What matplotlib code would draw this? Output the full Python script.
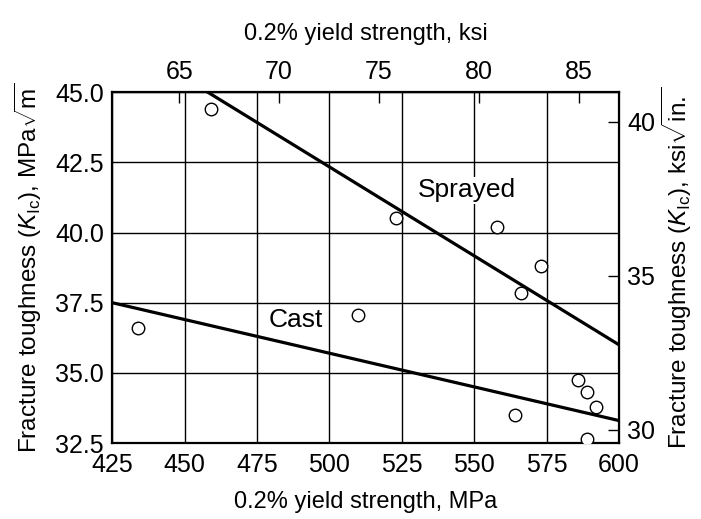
import matplotlib
matplotlib.use("Agg")
import matplotlib.pyplot as plt
import numpy as np

plt.rcParams['font.family'] = ['Liberation Sans', 'DejaVu Sans']
plt.rcParams['mathtext.fontset'] = 'custom'
plt.rcParams['mathtext.rm'] = 'Liberation Sans'
plt.rcParams['mathtext.it'] = 'Liberation Sans:italic'

# Data (MPa, MPa*sqrt(m))
yield_mpa = [434, 459, 510, 523, 558, 566, 573, 564, 586, 589, 592, 589]
kic_mpa = [36.6, 44.4, 37.05, 40.5, 40.2, 37.85, 38.8, 33.5, 34.75, 34.3, 33.8, 32.65]

sprayed_x = [458, 600]
sprayed_y = [45.0, 36.0]
cast_x = [425, 600]
cast_y = [37.5, 33.3]

x_ticks = [425, 450, 475, 500, 525, 550, 575, 600]
y_ticks = [32.5, 35.0, 37.5, 40.0, 42.5, 45.0]
ksi_ticks = [65, 70, 75, 80, 85]
ksi_in_ticks = [30, 35, 40]

MPA_PER_KSI = 6.894757
KSIIN_PER_MPAM = 0.91004

TICK_FS = 18
TITLE_FS = 17
VLABEL_FS = 17.5
NOTE_FS = 19

fig = plt.figure(figsize=(7.01, 5.19), dpi=100)
ax = fig.add_axes([0.160, 0.1464, 0.723, 0.676])

ax.set_xlim(425, 600)
ax.set_ylim(32.5, 45.0)
ax.set_xticks(x_ticks)
ax.set_yticks(y_ticks)
ax.set_yticklabels([f"{v:.1f}" for v in y_ticks])
ax.grid(True, color='black', linewidth=1.0)
ax.tick_params(axis='x', length=0, labelsize=TICK_FS, pad=7)
ax.tick_params(axis='y', length=0, labelsize=TICK_FS, pad=6)
for s in ax.spines.values():
    s.set_linewidth(1.6)

ax.plot(sprayed_x, sprayed_y, color='black', linewidth=2.3, zorder=3)
ax.plot(cast_x, cast_y, color='black', linewidth=2.3, zorder=3)
ax.plot(yield_mpa, kic_mpa, linestyle='none', marker='o', markersize=9,
        markerfacecolor='white', markeredgecolor='black', markeredgewidth=1.0, zorder=4)

ax.text(547.5, 41.5, "Sprayed", fontsize=NOTE_FS, ha='center', va='center',
        bbox=dict(facecolor='white', edgecolor='none', pad=1), zorder=5)
ax.text(488.5, 36.87, "Cast", fontsize=NOTE_FS, ha='center', va='center',
        bbox=dict(facecolor='white', edgecolor='none', pad=1), zorder=5)

ax.set_xlabel("0.2% yield strength, MPa", fontsize=TITLE_FS, labelpad=10)
ax.set_ylabel(r"Fracture toughness ($K_{\mathrm{Ic}}$), MPa$\sqrt{\mathrm{m}}$",
              fontsize=VLABEL_FS, labelpad=8)

top = ax.secondary_xaxis('top', functions=(lambda x: x / MPA_PER_KSI, lambda k: k * MPA_PER_KSI))
top.set_xticks(ksi_ticks)
top.tick_params(direction='in', length=8, width=1.0, labelsize=TICK_FS, pad=6)
top.set_xlabel("0.2% yield strength, ksi", fontsize=TITLE_FS, labelpad=14)

right = ax.secondary_yaxis('right', functions=(lambda m: m * KSIIN_PER_MPAM, lambda k: k / KSIIN_PER_MPAM))
right.set_yticks(ksi_in_ticks)
right.tick_params(direction='in', length=8, width=1.0, labelsize=TICK_FS, pad=6)
right.set_ylabel(r"Fracture toughness ($K_{\mathrm{Ic}}$), ksi$\sqrt{\mathrm{in.}}$",
                 fontsize=VLABEL_FS, labelpad=3)

fig.savefig("out.png", dpi=100)
